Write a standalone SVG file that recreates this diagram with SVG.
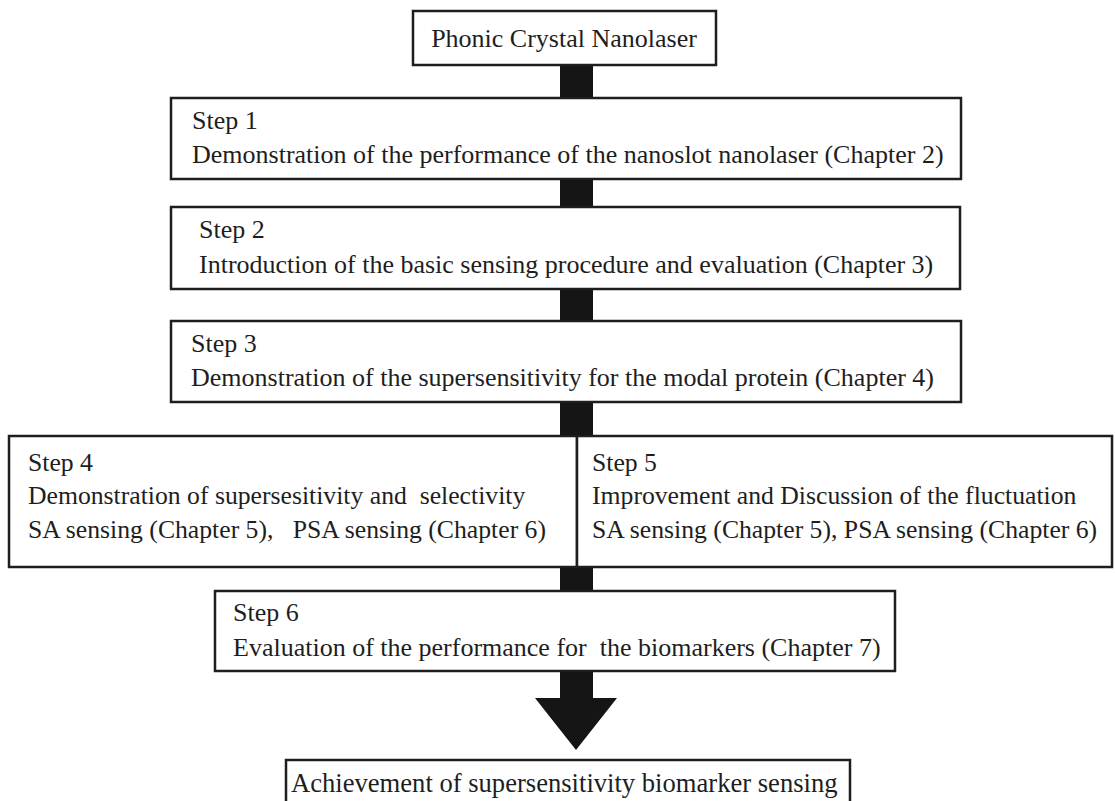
<svg xmlns="http://www.w3.org/2000/svg" width="1115" height="801" viewBox="0 0 1115 801">
<style>
.box{fill:#fff;stroke:#1e1e1e;stroke-width:2.5}
.bar{fill:#151515}
text{font-family:"Liberation Serif","Times New Roman",serif;font-size:26px;fill:#1e1e1e;white-space:pre}
.sm{font-size:25.7px}
.lg{font-size:26.6px}
</style>
<rect width="1115" height="801" fill="#fff"/>
<g id="connectors">
<rect class="bar" x="560" y="64" width="33" height="35"/>
<rect class="bar" x="560" y="178" width="33" height="30"/>
<rect class="bar" x="560" y="288" width="33" height="34"/>
<rect class="bar" x="560" y="401" width="33" height="36"/>
<rect class="bar" x="560" y="566" width="33" height="26"/>
<polygon class="bar" points="560,670 593,670 593,698 617,698 576,750 535,698 560,698"/>
</g>
<g id="node-top">
<rect class="box" x="413" y="11" width="303" height="54"/>
<text x="564" y="47" text-anchor="middle">Phonic Crystal Nanolaser</text>
</g>
<g id="node-step1">
<rect class="box" x="171" y="98" width="790" height="81"/>
<text x="192" y="129">Step 1</text>
<text x="192" y="163">Demonstration of the performance of the nanoslot nanolaser (Chapter 2)</text>
</g>
<g id="node-step2">
<rect class="box" x="171" y="207" width="789" height="82"/>
<text x="199" y="238">Step 2</text>
<text x="199" y="273">Introduction of the basic sensing procedure and evaluation (Chapter 3)</text>
</g>
<g id="node-step3">
<rect class="box" x="171" y="321" width="790" height="81"/>
<text x="191" y="352">Step 3</text>
<text x="191" y="386">Demonstration of the supersensitivity for the modal protein (Chapter 4)</text>
</g>
<g id="node-step4">
<rect class="box" x="9" y="436" width="568" height="131"/>
<text class="sm" x="28" y="471">Step 4</text>
<text class="sm" x="28" y="504">Demonstration of supersesitivity and  selectivity</text>
<text class="sm" x="28" y="538">SA sensing (Chapter 5),   PSA sensing (Chapter 6)</text>
</g>
<g id="node-step5">
<rect class="box" x="577" y="436" width="535" height="131"/>
<text class="sm" x="592" y="471">Step 5</text>
<text class="sm" x="592" y="504">Improvement and Discussion of the fluctuation</text>
<text class="sm" x="592" y="538">SA sensing (Chapter 5), PSA sensing (Chapter 6)</text>
</g>
<g id="node-step6">
<rect class="box" x="215" y="591" width="680" height="80"/>
<text x="233" y="621">Step 6</text>
<text x="233" y="656">Evaluation of the performance for  the biomarkers (Chapter 7)</text>
</g>
<g id="node-final">
<path class="box" d="M286,805 V760 H850 V805"/>
<text class="lg" x="291" y="792">Achievement of supersensitivity biomarker sensing</text>
</g>
</svg>
